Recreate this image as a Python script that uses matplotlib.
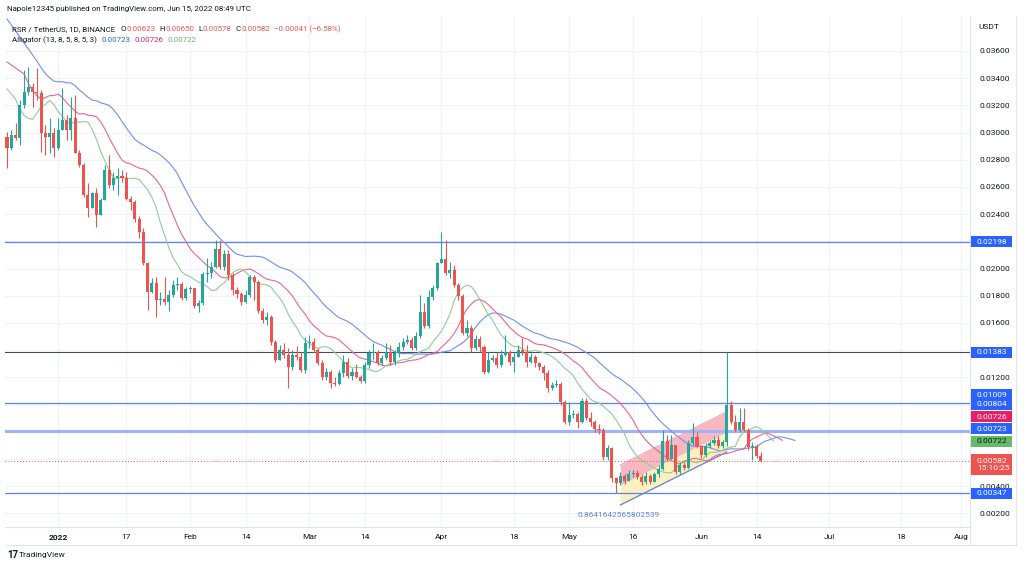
import numpy as np
import pandas as pd
import matplotlib
matplotlib.use("Agg")
import matplotlib.pyplot as plt
from matplotlib.ticker import FormatStrFormatter
from matplotlib.lines import Line2D
from matplotlib.patches import Rectangle

plt.rcParams['font.family'] = ['Roboto', 'DejaVu Sans']

# ---- data (RSR/USDT daily) ----
start = pd.Timestamp("2021-12-20")
first_open = 0.02968
closes = [
    0.02887, 0.02982, 0.02960, 0.03203, 0.03299, 0.03335, 0.03299, 0.03291, 0.02997, 0.02968,
    0.02997, 0.02887, 0.03019, 0.03093, 0.03019, 0.03107, 0.02850, 0.02762, 0.02541, 0.02446,
    0.02556, 0.02394, 0.02504, 0.02725, 0.02615, 0.02666, 0.02681, 0.02666, 0.02512, 0.02490,
    0.02365, 0.02269, 0.02041, 0.01828, 0.01894, 0.01769, 0.01777, 0.01754, 0.01806, 0.01879,
    0.01886, 0.01784, 0.01850, 0.01857, 0.01725, 0.01747, 0.01960, 0.01965, 0.02012, 0.02144,
    0.02012, 0.02107, 0.01953, 0.01843, 0.01813, 0.01754, 0.01806, 0.01938, 0.01901, 0.01688,
    0.01622, 0.01644, 0.01460, 0.01328, 0.01401, 0.01365, 0.01276, 0.01365, 0.01350, 0.01254,
    0.01453, 0.01460, 0.01401, 0.01306, 0.01203, 0.01240, 0.01159, 0.01152, 0.01232, 0.01313,
    0.01210, 0.01240, 0.01203, 0.01174, 0.01291, 0.01379, 0.01385, 0.01306, 0.01343, 0.01387,
    0.01313, 0.01379, 0.01424, 0.01460, 0.01475, 0.01416, 0.01504, 0.01681, 0.01578, 0.01791,
    0.01857, 0.02041, 0.02071, 0.01968, 0.01990, 0.01879, 0.01799, 0.01527, 0.01563, 0.01416,
    0.01482, 0.01424, 0.01240, 0.01328, 0.01343, 0.01291, 0.01365, 0.01387, 0.01313, 0.01350,
    0.01401, 0.01387, 0.01313, 0.01350, 0.01306, 0.01276, 0.01232, 0.01122, 0.01144, 0.01152,
    0.01019, 0.00872, 0.00924, 0.00931, 0.00872, 0.01026, 0.00901, 0.00872, 0.00821, 0.00813,
    0.00615, 0.00681, 0.00460, 0.00424, 0.00475, 0.00438, 0.00490, 0.00497, 0.00468, 0.00431,
    0.00475, 0.00431, 0.00490, 0.00527, 0.00732, 0.00600, 0.00703, 0.00504, 0.00556, 0.00534,
    0.00718, 0.00762, 0.00696, 0.00629, 0.00696, 0.00718, 0.00740, 0.00696, 0.00725, 0.00997,
    0.00872, 0.00813, 0.00872, 0.00813, 0.00688, 0.00696, 0.00623, 0.00582,
]
highs = [
    0.03004, 0.03019, 0.03071, 0.03240, 0.03460, 0.03482, 0.03365, 0.03475, 0.03313, 0.03056,
    0.03107, 0.03034, 0.03107, 0.03328, 0.03129, 0.03262, 0.03277, 0.02872, 0.02777, 0.02629,
    0.02563, 0.02593, 0.02519, 0.02762, 0.02835, 0.02710, 0.02740, 0.02725, 0.02710, 0.02534,
    0.02504, 0.02387, 0.02299, 0.02049, 0.01931, 0.01938, 0.01828, 0.01938, 0.01843, 0.01916,
    0.01938, 0.01901, 0.01865, 0.01872, 0.01857, 0.01769, 0.01975, 0.02078, 0.02049, 0.02210,
    0.02210, 0.02137, 0.02137, 0.01968, 0.01865, 0.01828, 0.01843, 0.01953, 0.01953, 0.01916,
    0.01710, 0.01681, 0.01659, 0.01475, 0.01438, 0.01453, 0.01416, 0.01401, 0.01431, 0.01387,
    0.01497, 0.01512, 0.01490, 0.01416, 0.01328, 0.01269, 0.01254, 0.01203, 0.01254, 0.01365,
    0.01343, 0.01269, 0.01299, 0.01218, 0.01313, 0.01401, 0.01453, 0.01401, 0.01365, 0.01453,
    0.01438, 0.01401, 0.01460, 0.01490, 0.01512, 0.01497, 0.01534, 0.01806, 0.01747, 0.01843,
    0.01879, 0.02049, 0.02269, 0.02210, 0.02049, 0.02027, 0.01894, 0.01813, 0.01622, 0.01585,
    0.01512, 0.01504, 0.01438, 0.01387, 0.01365, 0.01387, 0.01401, 0.01512, 0.01401, 0.01387,
    0.01438, 0.01490, 0.01438, 0.01379, 0.01365, 0.01313, 0.01291, 0.01254, 0.01166, 0.01181,
    0.01166, 0.01034, 0.01019, 0.00960, 0.00946, 0.01049, 0.01049, 0.00946, 0.00887, 0.00857,
    0.00828, 0.00703, 0.00688, 0.00468, 0.00504, 0.00490, 0.00519, 0.00519, 0.00519, 0.00490,
    0.00504, 0.00490, 0.00504, 0.00556, 0.00813, 0.00776, 0.00776, 0.00703, 0.00578, 0.00578,
    0.00740, 0.00865, 0.00799, 0.00703, 0.00718, 0.00740, 0.00769, 0.00769, 0.00740, 0.01387,
    0.01026, 0.00924, 0.00975, 0.00975, 0.00828, 0.00725, 0.00710, 0.00650,
]
lows = [
    0.02740, 0.02872, 0.02946, 0.02909, 0.03181, 0.03277, 0.03188, 0.03240, 0.02857, 0.02835,
    0.02850, 0.02821, 0.02872, 0.03019, 0.02946, 0.02946, 0.02850, 0.02747, 0.02527, 0.02379,
    0.02446, 0.02306, 0.02394, 0.02504, 0.02593, 0.02578, 0.02541, 0.02637, 0.02504, 0.02431,
    0.02343, 0.02225, 0.02027, 0.01696, 0.01821, 0.01644, 0.01732, 0.01732, 0.01688, 0.01791,
    0.01843, 0.01769, 0.01769, 0.01821, 0.01710, 0.01681, 0.01732, 0.01901, 0.01931, 0.02004,
    0.01997, 0.01990, 0.01916, 0.01806, 0.01784, 0.01732, 0.01747, 0.01791, 0.01769, 0.01674,
    0.01600, 0.01585, 0.01438, 0.01313, 0.01328, 0.01343, 0.01122, 0.01254, 0.01328, 0.01240,
    0.01232, 0.01416, 0.01387, 0.01291, 0.01181, 0.01181, 0.01122, 0.01137, 0.01144, 0.01203,
    0.01196, 0.01181, 0.01196, 0.01159, 0.01159, 0.01269, 0.01328, 0.01291, 0.01291, 0.01328,
    0.01291, 0.01291, 0.01350, 0.01401, 0.01446, 0.01401, 0.01401, 0.01490, 0.01563, 0.01563,
    0.01769, 0.01843, 0.02041, 0.01953, 0.01931, 0.01865, 0.01769, 0.01512, 0.01504, 0.01387,
    0.01401, 0.01387, 0.01225, 0.01232, 0.01313, 0.01269, 0.01276, 0.01357, 0.01291, 0.01240,
    0.01365, 0.01365, 0.01276, 0.01306, 0.01276, 0.01254, 0.01181, 0.01093, 0.01107, 0.01129,
    0.00997, 0.00857, 0.00850, 0.00901, 0.00828, 0.00865, 0.00887, 0.00843, 0.00799, 0.00784,
    0.00593, 0.00593, 0.00431, 0.00350, 0.00409, 0.00416, 0.00446, 0.00468, 0.00453, 0.00409,
    0.00416, 0.00416, 0.00460, 0.00468, 0.00519, 0.00585, 0.00651, 0.00490, 0.00490, 0.00519,
    0.00527, 0.00703, 0.00681, 0.00607, 0.00615, 0.00681, 0.00703, 0.00681, 0.00681, 0.00696,
    0.00857, 0.00799, 0.00799, 0.00799, 0.00666, 0.00593, 0.00607, 0.00578,
]

# alligator lines left of the first computed point
jaw_head = [0.03835, 0.03791, 0.03747, 0.03703, 0.03659, 0.03615, 0.03571, 0.03527]
teeth_head = [0.03519, 0.03497, 0.03475, 0.03453, 0.03431]
lips_head = [0.03321, 0.03284, 0.03247]

levels = [0.02198, 0.01383, 0.01009, 0.00804, 0.00347]

channel_dates = ["2022-05-13", "2022-06-07"]
channel_top = [0.00556, 0.00946]
channel_bottom = [0.00262, 0.00651]
channel_text = "0.8641642565802539"

tick_dates = ["2022-01-01", "2022-01-17", "2022-02-01", "2022-02-14", "2022-03-01",
              "2022-03-14", "2022-04-01", "2022-04-18", "2022-05-01", "2022-05-16",
              "2022-06-01", "2022-06-14", "2022-07-01", "2022-07-18", "2022-08-01"]
tick_labels = ["2022", "17", "Feb", "14", "Mar", "14", "Apr", "18", "May", "16",
               "Jun", "14", "Jul", "18", "Aug"]

# ---- styles ----
W, H = 1024, 567
UP, DOWN = "#26a69a", "#ef5350"
DARK = "#131722"
JAW, TEETH, LIPS = "#6f8ff8", "#ef6590", "#8fcf91"
FS = 6

closes = np.array(closes)
highs = np.array(highs)
lows = np.array(lows)
opens = np.r_[first_open, closes[:-1]]
highs = np.maximum(highs, np.maximum(opens, closes))
lows = np.minimum(lows, np.minimum(opens, closes))
x = np.arange(len(closes))


def day(s):
    return (pd.Timestamp(s) - start).days


def smma(src, n, seed):
    out, prev = [], seed
    for v in src:
        prev = (prev * (n - 1) + v) / n
        out.append(prev)
    return np.array(out)


hl2 = (highs + lows) / 2
jaw = np.r_[jaw_head, smma(hl2, 13, jaw_head[-1])]
teeth = np.r_[teeth_head, smma(hl2, 8, teeth_head[-1])]
lips = np.r_[lips_head, smma(hl2, 5, lips_head[-1])]

fig = plt.figure(figsize=(W / 100, H / 100), dpi=100)
fig.patch.set_facecolor("white")
ax = fig.add_axes([5 / W, 40 / H, 965 / W, 511 / H])
ax.set_xlim(-0.47, 226.1)
ax.set_ylim(0.00100, 0.03857)
px_y = (0.03857 - 0.00100) / 511

# grid / ticks
yt = np.arange(0.002, 0.0361, 0.002)
ax.set_yticks(yt)
ax.yaxis.set_major_formatter(FormatStrFormatter("%.5f"))
ax.yaxis.tick_right()
ax.set_xticks([day(d) for d in tick_dates])
ax.set_xticklabels(tick_labels)
ax.get_xticklabels()[0].set_fontweight("bold")
ax.tick_params(axis="both", length=0, labelsize=FS, colors=DARK)
ax.tick_params(axis="y", pad=7)
ax.tick_params(axis="x", pad=5)
ax.grid(color="#f0f3fa", lw=0.8)
ax.set_axisbelow(True)
for s in ["left", "top"]:
    ax.spines[s].set_visible(False)
for s in ["right", "bottom"]:
    ax.spines[s].set_color("#e0e3eb")

# channel drawing
cx = [day(d) for d in channel_dates]
cmid = [(a + b) / 2 for a, b in zip(channel_top, channel_bottom)]
ax.fill_between(cx, cmid, channel_top, color="#f8b4be", alpha=0.95, lw=0, zorder=1)
ax.fill_between(cx, channel_bottom, cmid, color="#fdf0bd", alpha=0.95, lw=0, zorder=1)
ax.plot(cx, channel_top, color="#f4a0ad", lw=0.8, zorder=1)
ax.plot(cx, channel_bottom, color="#5b80f8", lw=0.9, zorder=1)
ax.text(cx[0] - 10, channel_bottom[0] - 0.00074, channel_text, color="#5b80f8",
        fontsize=FS, va="center", ha="left")

# horizontal levels
for lv in levels:
    if lv == 0.01383:
        ax.axhline(lv, color="#4a4e5a", lw=0.8, zorder=1.5)
    elif lv == 0.00804:
        ax.axhline(lv, color="#9fb3f8", lw=2.2, zorder=1.5)
    else:
        ax.axhline(lv, color="#5b80f8", lw=0.9, zorder=1.5)

# alligator
ax.plot(np.arange(len(jaw)), jaw, color=JAW, lw=0.8, zorder=2)
ax.plot(np.arange(len(teeth)), teeth, color=TEETH, lw=0.8, zorder=2)
ax.plot(np.arange(len(lips)), lips, color=LIPS, lw=0.8, zorder=2)

# candles
cols = np.where(closes >= opens, UP, DOWN)
ax.vlines(x, lows, highs, colors=cols, lw=0.8, zorder=3)
body = np.maximum(np.abs(closes - opens), 0.00005)
ax.bar(x, body, 0.72, bottom=np.minimum(opens, closes), color=cols, lw=0, zorder=3)

# last price line
ax.axhline(closes[-1], color=DOWN, ls=(0, (1, 2)), lw=0.7, zorder=2)

# right axis value boxes (stacked like the reference)
box_specs = [
    ("0.02198", 0.02198, "#2962ff", "white"),
    ("0.01383", 0.01383, "#2962ff", "white"),
    ("0.01009", 0.01071, "#2962ff", "white"),
    ("0.00804", 0.01004, "#2962ff", "white"),
    ("0.00726", 0.00909, "#e91e63", "white"),
    ("0.00723", 0.00821, "#2962ff", "white"),
    ("0.00722", 0.00732, "#66bb6a", DARK),
    ("0.00582\n15:10:25", 0.00563, "#ef5350", "white"),
    ("0.00347", 0.00347, "#2962ff", "white"),
]
ytr = ax.get_yaxis_transform()
spans = []
for txt, yv, fc, tc in box_specs:
    nl = txt.count("\n") + 1
    h = (10 * nl + 1) * px_y
    spans.append((yv - h / 2, yv + h / 2))
    ax.add_patch(Rectangle(((971 - 5) / 965, yv - h / 2), 41 / 965, h, transform=ytr,
                           fc=fc, ec="none", clip_on=False, zorder=9))
    ax.text((977 - 5) / 965, yv, txt, transform=ytr, fontsize=FS, color=tc,
            va="center", ha="left", zorder=10, clip_on=False, linespacing=1.2)

# price labels hidden behind the boxes
for lab, v in zip(ax.get_yticklabels(), yt):
    if any(lo < v < hi for lo, hi in spans):
        lab.set_visible(False)

# frame of the time/price axes
fig.add_artist(Line2D([6 / W, 1016 / W], [1 - 545 / H] * 2, color="#e0e3eb", lw=0.8))
fig.add_artist(Line2D([1016 / W] * 2, [1 - 16 / H, 1 - 545 / H], color="#e0e3eb", lw=0.8))
fig.add_artist(Line2D([970 / W] * 2, [1 - 527 / H, 1 - 545 / H], color="#e0e3eb", lw=0.8))

# header
HS = 5.7
renderer = fig.canvas.get_renderer()


def header(px, py, parts, size=HS):
    for s, c, gap in parts:
        t = fig.text(px / W, 1 - py / H, s, color=c, fontsize=size, va="center", ha="left")
        px += t.get_window_extent(renderer=renderer).width + gap


fig.text(7 / W, 1 - 9 / H, "Napole12345 published on TradingView.com, Jun 15, 2022 08:49 UTC",
         fontsize=HS, color=DARK, va="center")
chg = closes[-1] - closes[-2]
pct = chg / closes[-2] * 100
header(12, 29, [
    ("RSR / TetherUS, 1D, BINANCE", DARK, 5),
    ("O", DARK, 0.5), ("%.5f" % opens[-1], DOWN, 4),
    ("H", DARK, 0.5), ("%.5f" % highs[-1], DOWN, 4),
    ("L", DARK, 0.5), ("%.5f" % lows[-1], DOWN, 4),
    ("C", DARK, 0.5), ("%.5f" % closes[-1], DOWN, 4),
    ("\u2212%.5f (\u2212%.2f%%)" % (abs(chg), abs(pct)), DOWN, 0),
])
header(12, 40, [
    ("Alligator (13, 8, 5, 8, 5, 3)", DARK, 5),
    ("0.00723", "#2962ff", 4), ("0.00726", "#e91e63", 4), ("0.00722", "#66bb6a", 0),
])
fig.text(978 / W, 1 - 27 / H, "USDT", fontsize=FS, color=DARK, va="center")

# footer logo
fig.text(7 / W, 1 - 555 / H, "17", fontsize=7, fontweight="bold", color=DARK, va="center")
fig.text(19 / W, 1 - 555 / H, "TradingView", fontsize=FS, color=DARK, va="center")

fig.savefig("out.png", dpi=100, facecolor="white")
